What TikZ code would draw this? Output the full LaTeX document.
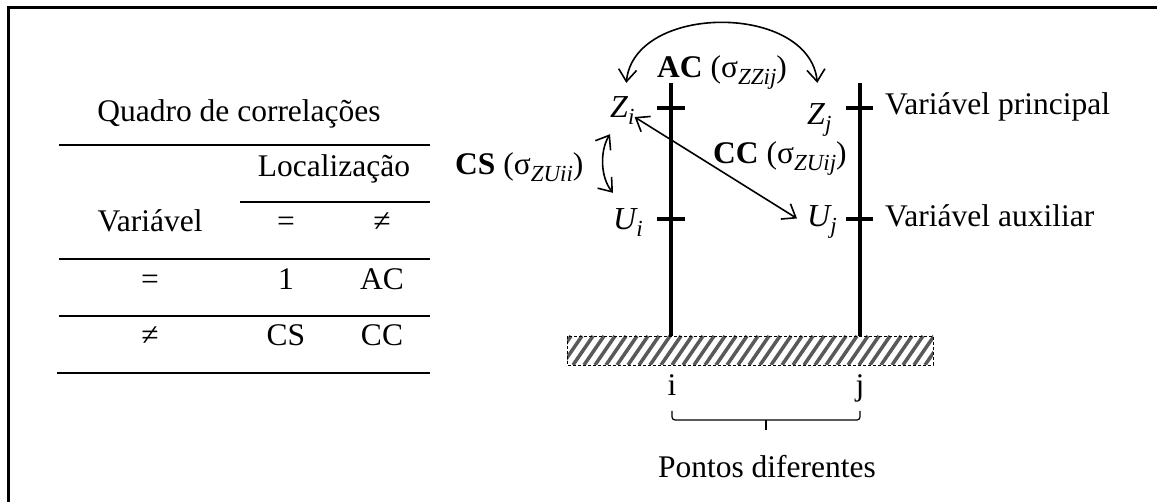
\documentclass[tikz,border=0pt]{standalone}
\usepackage{fontspec}
\setmainfont{Liberation Serif}
\usetikzlibrary{arrows.meta,calc}
\newcommand{\sbs}[1]{\raisebox{-7pt}{\fontsize{23}{23}\selectfont\itshape #1}}
\begin{document}
\begin{tikzpicture}[x=1pt,y=-1pt,
  txt/.style={font=\fontsize{31.5}{36}\selectfont, inner sep=0pt},
  var/.style={inner sep=0pt, font=\fontsize{32}{36}\selectfont\itshape},
  rule/.style={line width=2pt},
  pole/.style={line width=4pt},
  tickm/.style={line width=4pt},
  arr/.style={line width=1.6pt, {Straight Barb[length=12pt,width=18pt]}-{Straight Barb[length=12pt,width=18pt]}},
]
\useasboundingbox (0,0) rectangle (1157,502);
% frame
\draw[line width=3pt] (1157,8) -- (8,8) -- (8,502);

% table
\node[txt, anchor=base] (title) at (239,122) {Quadro de correlações};
\draw[rule] (59,145) -- (430,145);
\node[txt, anchor=base] (loc) at (334,177) {Localização};
\draw[rule] (240,202) -- (430,202);
\node[txt, anchor=base] (hv) at (150,232) {Variável};
\node[txt, anchor=base] (h1) at (286,232) {=};
\node[txt, anchor=base] (h2) at (382,232) {≠};
\draw[rule] (59,259) -- (430,259);
\node[txt, anchor=base] (r1a) at (150,290) {=};
\node[txt, anchor=base] (r1b) at (286,290) {1};
\node[txt, anchor=base] (r1c) at (382,290) {AC};
\draw[rule] (59,316) -- (430,316);
\node[txt, anchor=base] (r2a) at (150,346) {≠};
\node[txt, anchor=base] (r2b) at (286,346) {CS};
\node[txt, anchor=base] (r2c) at (382,346) {CC};
\draw[rule] (57,373) -- (430,373);

% hatched ground
\begin{scope}
\clip (567,336) rectangle (933,365);
\foreach \x in {540,551,...,940} \draw[line width=3.5pt, color=black!65] (\x,365) -- ++(20,-29);
\end{scope}
\draw[densely dashed, line width=0.6pt] (567,336) rectangle (933,365);

% poles and ticks
\draw[pole] (671,83) -- (671,336);
\draw[pole] (860,83) -- (860,336);
\draw[tickm] (657,108) -- (685,108);
\draw[tickm] (657,219) -- (685,219);
\draw[tickm] (846,108) -- (873,108);
\draw[tickm] (846,219) -- (873,219);

% variable labels
\node[var, anchor=base west] (Zi) at (610,118) {Z\sbs{i}};
\node[var, anchor=base west] (Ui) at (613,230) {U\sbs{i}};
\node[var, anchor=base west] (Zj) at (807,125) {Z\sbs{j}};
\node[var, anchor=base west] (Uj) at (807,227) {U\sbs{j}};
\node[txt, anchor=base west] (vp) at (885,115) {Variável principal};
\node[txt, anchor=base west] (va) at (885,227) {Variável auxiliar};

% correlation labels
\node[txt, anchor=base west] (acl) at (657,78) {\textbf{AC} (σ\sbs{ZZij})};
\node[txt, anchor=base west] (ccl) at (713,164) {\textbf{CC} (σ\sbs{ZUij})};
\node[txt, anchor=base west] (csl) at (455,175) {\textbf{CS} (σ\sbs{ZUii})};

% arrows
\draw[arr] ($(Zi.north)+(4,-14)$) .. controls +(8,-80) and +(-8,-80) .. ($(Zj.north)+(-2,-21)$);
\draw[arr] ($(Zi.east)+(0,6)$) -- ($(Uj.west)+(-10,-4)$);
\draw[arr] ($(Zi.south west)+(0,9)$) .. controls +(-10,16) and +(-13,-16) .. ($(Ui.north west)+(0,-16)$);

% points
\node[txt, anchor=base] (pi) at (672,396) {i};
\node[txt, anchor=base] (pj) at (860,396) {j};
\coordinate (bl) at ($(pi.base)+(0,15)$);
\coordinate (br) at ($(pj.base)+(0,15)$);
\coordinate (bm) at ($(bl)!0.5!(br)+(0,9)$);
\draw[line width=1.2pt, rounded corners=3pt] (bl) -- ++(0,9) -- ($(bm)+(-6,0)$) -- ($(bm)+(0,0)$) -- ($(bm)+(6,0)$) -- ($(br)+(0,9)$) -- (br);
\draw[line width=2pt] (bm) -- ++(0,10);
\node[txt, anchor=base] (pd) at (767,477) {Pontos diferentes};
\end{tikzpicture}
\end{document}
